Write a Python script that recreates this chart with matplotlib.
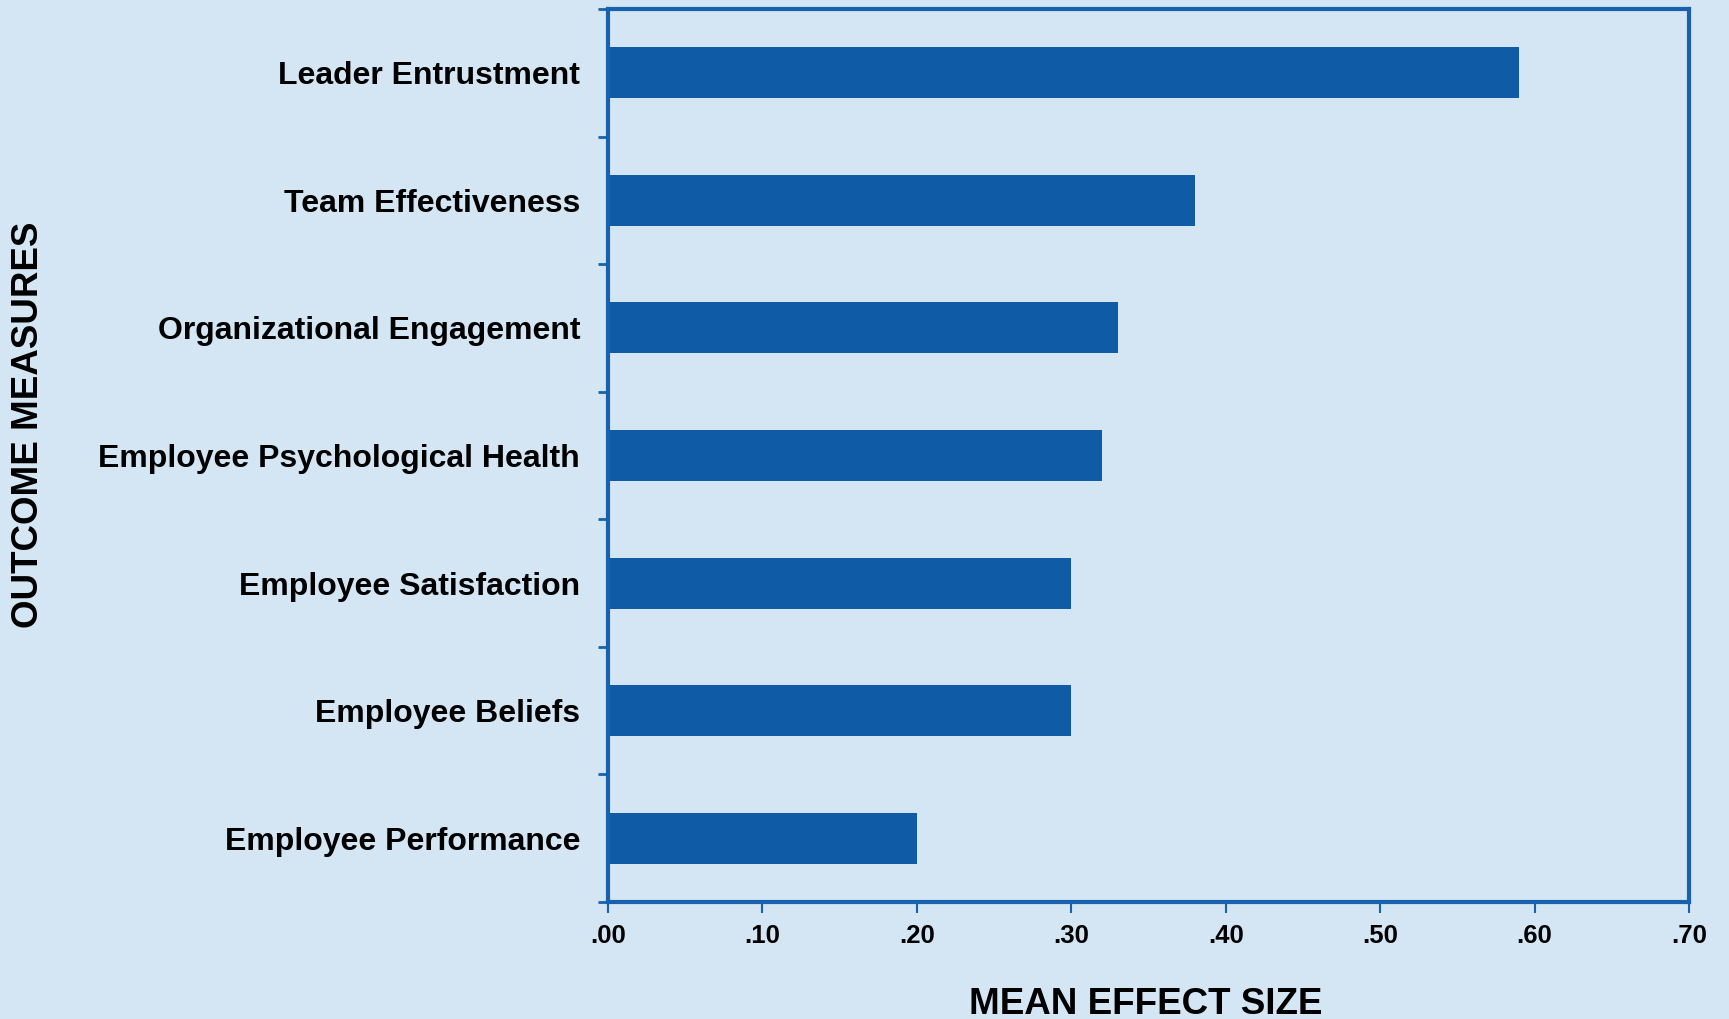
import matplotlib.pyplot as plt
import numpy as np

# data
categories = [
    "Leader Entrustment",
    "Team Effectiveness",
    "Organizational Engagement",
    "Employee Psychological Health",
    "Employee Satisfaction",
    "Employee Beliefs",
    "Employee Performance",
]
effect_sizes = [0.59, 0.38, 0.33, 0.32, 0.30, 0.30, 0.20]
x_ticks = [0.0, 0.1, 0.2, 0.3, 0.4, 0.5, 0.6, 0.7]
x_tick_labels = [".00", ".10", ".20", ".30", ".40", ".50", ".60", ".70"]

bg = "#D4E6F4"
bar_color = "#105BA6"
line_color = "#1761AD"

plt.rcParams['font.family'] = ['Liberation Sans', 'DejaVu Sans']
plt.rcParams['font.weight'] = 'bold'

fig = plt.figure(figsize=(17.29, 10.19), dpi=100, facecolor=bg)
ax = fig.add_axes([608 / 1729, 1 - 902 / 1019, (1689 - 608) / 1729, (902 - 9) / 1019])
ax.set_facecolor(bg)

n = len(categories)
y = np.arange(n)[::-1]
ax.barh(y, effect_sizes, height=0.4, color=bar_color, edgecolor='none', zorder=2)

ax.set_xlim(0, 0.7)
ax.set_ylim(-0.5, n - 0.5)

ax.set_xticks(x_ticks)
ax.set_xticklabels(x_tick_labels, fontsize=18.5, fontweight='bold')
ax.set_yticks(y)
ax.set_yticklabels(categories, fontsize=23, fontweight='bold')
ax.tick_params(axis='y', which='major', length=0, pad=20)
ax.set_yticks(np.arange(n + 1) - 0.5, minor=True)
ax.tick_params(axis='y', which='minor', length=7, width=2, color=line_color, direction='out')
ax.tick_params(axis='x', which='major', length=8, width=1.5, color=line_color, direction='out', pad=8)

for side in ['left', 'right', 'top', 'bottom']:
    ax.spines[side].set_color(line_color)
    ax.spines[side].set_linewidth(3)

fig.text(1146 / 1729, 1 - 987 / 1019, "MEAN EFFECT SIZE", ha='center', va='top',
         fontsize=26.5, fontweight='bold')
fig.text(29 / 1729, 1 - 425 / 1019, "OUTCOME MEASURES", ha='center', va='center',
         rotation=90, fontsize=26.5, fontweight='bold')

fig.savefig("out.png", dpi=100, facecolor=bg)
